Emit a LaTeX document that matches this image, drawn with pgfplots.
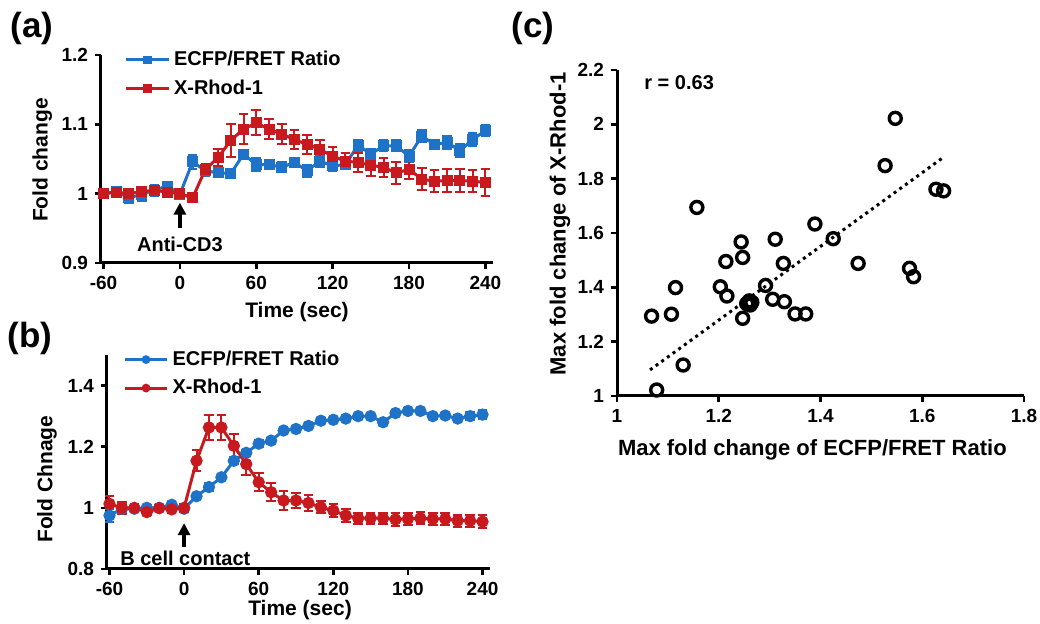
\documentclass[border=0pt]{standalone}
\usepackage{fontspec}
\setmainfont{Liberation Sans}
\usepackage{pgfplots}
\pgfplotsset{compat=1.18}
\usetikzlibrary{arrows.meta}
\definecolor{ecfp}{RGB}{30,115,200}
\definecolor{rhod}{RGB}{200,25,30}

\pgfplotstableread{
t   y      e
-60 1.000 0.004
-50 1.003 0.007
-40 0.994 0.008
-30 0.999 0.009
-20 1.005 0.008
-10 1.011 0.006
0   0.999 0.006
10  1.046 0.010
20  1.033 0.008
30  1.030 0.006
40  1.029 0.004
50  1.057 0.006
60  1.042 0.009
70  1.042 0.006
80  1.038 0.007
90  1.045 0.007
100 1.033 0.009
110 1.047 0.008
120 1.040 0.007
130 1.042 0.007
140 1.070 0.008
150 1.057 0.008
160 1.069 0.008
170 1.069 0.008
180 1.054 0.009
190 1.083 0.009
200 1.071 0.007
210 1.074 0.009
220 1.062 0.009
230 1.078 0.009
240 1.091 0.008
}\ecfpA

\pgfplotstableread{
t   y      e
-60 1.000 0.004
-50 1.002 0.004
-40 1.000 0.006
-30 1.003 0.006
-20 1.005 0.006
-10 1.002 0.005
0   1.000 0.005
10  0.994 0.005
20  1.035 0.008
30  1.052 0.012
40  1.077 0.024
50  1.093 0.022
60  1.102 0.018
70  1.093 0.014
80  1.086 0.014
90  1.078 0.014
100 1.071 0.014
110 1.064 0.014
120 1.054 0.014
130 1.047 0.012
140 1.045 0.014
150 1.041 0.016
160 1.038 0.014
170 1.030 0.016
180 1.035 0.014
190 1.021 0.016
200 1.018 0.016
210 1.019 0.016
220 1.019 0.016
230 1.018 0.016
240 1.016 0.020
}\rhodA

\pgfplotstableread{
t   y      e
-60 0.975 0.020
-50 0.997 0.015
-40 0.997 0.012
-30 1.000 0.010
-20 1.000 0.008
-10 1.010 0.010
0   0.997 0.012
10  1.038 0.010
20  1.068 0.012
30  1.100 0.010
40  1.154 0.012
50  1.180 0.010
60  1.210 0.012
70  1.220 0.010
80  1.253 0.010
90  1.258 0.008
100 1.268 0.010
110 1.285 0.008
120 1.288 0.008
130 1.292 0.008
140 1.300 0.008
150 1.300 0.008
160 1.280 0.008
170 1.310 0.008
180 1.317 0.008
190 1.317 0.008
200 1.300 0.008
210 1.302 0.008
220 1.292 0.012
230 1.300 0.012
240 1.305 0.015
}\ecfpB

\pgfplotstableread{
t   y      e
-60 1.013 0.025
-50 1.000 0.020
-40 1.000 0.012
-30 0.986 0.010
-20 0.999 0.010
-10 0.995 0.012
0   1.000 0.012
10  1.154 0.035
20  1.263 0.040
30  1.263 0.040
40  1.203 0.040
50  1.143 0.035
60  1.084 0.030
70  1.051 0.030
80  1.024 0.030
90  1.024 0.025
100 1.016 0.025
110 1.002 0.020
120 0.991 0.020
130 0.975 0.020
140 0.966 0.018
150 0.966 0.018
160 0.966 0.018
170 0.962 0.020
180 0.964 0.020
190 0.966 0.020
200 0.964 0.020
210 0.964 0.020
220 0.958 0.020
230 0.958 0.020
240 0.955 0.020
}\rhodB

\pgfplotstableread{
x     y
1.068 1.294
1.078 1.022
1.107 1.301
1.115 1.399
1.130 1.114
1.157 1.694
1.203 1.402
1.216 1.368
1.214 1.495
1.244 1.567
1.247 1.510
1.247 1.286
1.255 1.340
1.260 1.350
1.265 1.345
1.262 1.335
1.292 1.407
1.306 1.356
1.311 1.577
1.327 1.488
1.329 1.347
1.350 1.302
1.371 1.302
1.389 1.633
1.425 1.579
1.474 1.488
1.527 1.848
1.547 2.022
1.575 1.470
1.583 1.439
1.627 1.761
1.642 1.755
}\scatterC

\pgfplotsset{
  panel/.style={
    scale only axis,
    anchor=south west,
    axis lines=left,
    axis line style={-, line width=1.5pt, black},
    tick align=outside,
    major tick length=3pt,
    every tick/.style={line width=1.3pt, black},
    tick label style={font=\bfseries\fontsize{9.5}{10}\selectfont},
    label style={font=\bfseries\fontsize{10.5}{12}\selectfont},
    legend style={draw=none, fill=none, font=\bfseries\fontsize{10}{12}\selectfont,
      row sep=1.5pt, inner sep=0pt},
    legend cell align=left,
    legend image code/.code={\draw[mark repeat=2,mark phase=2, mark size=1.4pt]
      plot coordinates {(0cm,0cm) (0.37cm,0cm) (0.74cm,0cm)};},
  },
  ts/.style={
    xmin=-62, xmax=246,
    xtick={-60,0,60,120,180,240},
    xticklabels={-60,0,60,120,180,240},
    xlabel={Time (sec)},
  },
  ebar/.style={
    line width=1.5pt,
    error bars/y dir=both,
    error bars/y explicit,
    error bars/error bar style={line width=1pt},
    error bars/error mark options={rotate=90, mark size=2.4pt, line width=1pt},
  },
}

\begin{document}
\begin{tikzpicture}
\path[use as bounding box] (0,0) rectangle (520pt,312pt);

% (a)
\begin{axis}[panel, ts,
  at={(50.5pt,180.5pt)}, width=196pt, height=104pt,
  ymin=0.9, ymax=1.2,
  ytick={0.9,1,1.1,1.2}, yticklabels={0.9,1,1.1,1.2},
  xlabel style={at={(axis description cs:0.5,-0.235)}, anchor=center},
  ylabel={Fold change},
  ylabel style={at={(axis description cs:-0.15,0.495)}, anchor=center},
  legend style={at={(axis description cs:0.06,1.04)}, anchor=north west},
  clip=false]
\addplot[ebar, color=ecfp, mark=square*, mark size=2pt]
  table[x=t, y=y, y error=e] {\ecfpA};
\addlegendentry{ECFP/FRET Ratio}
\addplot[ebar, color=rhod, mark=square*, mark size=2pt]
  table[x=t, y=y, y error=e] {\rhodA};
\addlegendentry{X-Rhod-1}
\draw[-{Triangle[width=6pt,length=6pt]}, line width=1.6pt] (axis cs:0,0.95) -- (axis cs:0,0.987);
\node[font=\bfseries\fontsize{10}{12}\selectfont] at (axis cs:0,0.927) {Anti-CD3};
\end{axis}

% (b)
\begin{axis}[panel, ts,
  at={(53.5pt,27.5pt)}, width=191.5pt, height=107pt,
  ymin=0.8, ymax=1.5,
  ytick={0.8,1,1.2,1.4}, yticklabels={0.8,1,1.2,1.4},
  xlabel style={at={(axis description cs:0.504,-0.19)}, anchor=center},
  ylabel={Fold Chnage},
  ylabel style={at={(axis description cs:-0.157,0.42)}, anchor=center},
  legend style={at={(axis description cs:0.042,1.04)}, anchor=north west},
  clip=false]
\addplot[ebar, color=ecfp, mark=*, mark size=2.3pt]
  table[x=t, y=y, y error=e] {\ecfpB};
\addlegendentry{ECFP/FRET Ratio}
\addplot[ebar, color=rhod, mark=*, mark size=2.3pt]
  table[x=t, y=y, y error=e] {\rhodB};
\addlegendentry{X-Rhod-1}
\draw[-{Triangle[width=6pt,length=6pt]}, line width=1.6pt] (axis cs:0,0.872) -- (axis cs:0,0.95);
\node[font=\bfseries\fontsize{10}{12}\selectfont] at (axis cs:1,0.836) {B cell contact};
\end{axis}

% (c)
\begin{axis}[panel,
  at={(308.5pt,114pt)}, width=203.5pt, height=163pt,
  xmin=1, xmax=1.8, ymin=1, ymax=2.2,
  xtick={1,1.2,1.4,1.6,1.8}, xticklabels={1,1.2,1.4,1.6,1.8},
  ytick={1,1.2,1.4,1.6,1.8,2,2.2}, yticklabels={1,1.2,1.4,1.6,1.8,2,2.2},
  xlabel={Max fold change of ECFP/FRET Ratio},
  xlabel style={at={(axis description cs:0.48,-0.166)}, anchor=center, font=\bfseries\fontsize{11}{13}\selectfont},
  ylabel={Max fold change of X-Rhod-1},
  ylabel style={at={(axis description cs:-0.14,0.528)}, anchor=center, font=\bfseries\fontsize{11}{13}\selectfont},
  clip=false]
\addplot[only marks, mark=o, mark size=3pt, mark options={line width=1.7pt, black}]
  table[x=x, y=y] {\scatterC};
\addplot[black, dotted, line width=1.5pt] coordinates {(1.065,1.096) (1.639,1.875)};
\node[anchor=west, font=\bfseries\fontsize{10}{12}\selectfont] at (axis cs:1.04,2.155) {r = 0.63};
\end{axis}

\node[font=\bfseries\fontsize{17.5}{20}\selectfont] at (16pt,298pt) {(a)};
\node[font=\bfseries\fontsize{17.5}{20}\selectfont] at (15pt,143pt) {(b)};
\node[font=\bfseries\fontsize{17.5}{20}\selectfont] at (266.5pt,298pt) {(c)};
\end{tikzpicture}
\end{document}
